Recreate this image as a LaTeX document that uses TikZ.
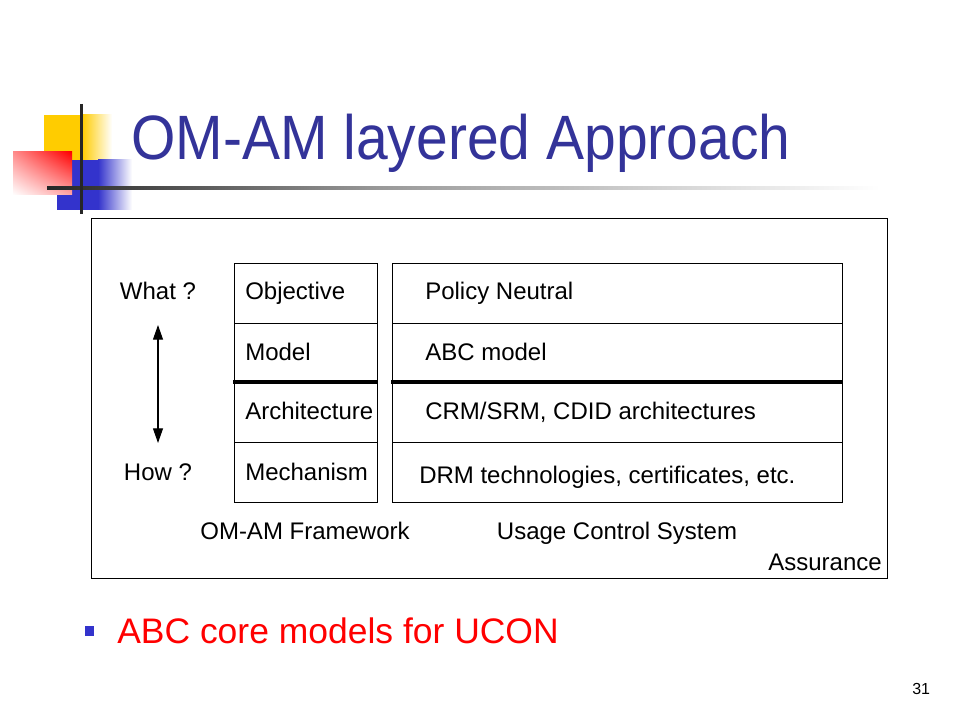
\documentclass[tikz,border=0pt]{standalone}
\usepackage{fontspec}
\setmainfont{Liberation Sans}
\usetikzlibrary{arrows.meta,shadings}
\definecolor{titleblue}{RGB}{51,51,153}
\definecolor{logoyellow}{RGB}{255,204,0}
\definecolor{logoblue}{RGB}{51,51,204}
\definecolor{bulletred}{RGB}{255,0,0}
\tikzset{
  cell/.style={font=\fontsize{18}{20}\selectfont, anchor=base west, inner sep=0pt},
  plain/.style={font=\fontsize{18}{20}\selectfont, anchor=base, inner sep=0pt},
  boxline/.style={draw=black, line width=0.6pt},
  thickline/.style={line width=2.4pt},
}
\begin{document}
\begin{tikzpicture}[x=0.75pt,y=-0.75pt]
\useasboundingbox (0,0) rectangle (960,720);
\fill[white] (0,0) rectangle (960,720);
% logo
\fill[logoyellow] (44,115) rectangle (82,160);
\shade[left color=logoyellow, right color=white] (82,115) rectangle (112,160);
\fill[logoblue] (57,160) rectangle (98,210);
\shade[left color=logoblue, right color=white] (98,160) rectangle (132,210);
\shade[upper right=red, upper left=red!45, lower right=red!35, lower left=white] (13,152) rectangle (72,195);
\shade[left color=black!85, right color=black!40] (47,186.5) rectangle (380,189.5);
\shade[left color=black!40, right color=white] (380,186.5) rectangle (880,189.5);
\draw[line width=2.2pt, black!85] (81.5,104) -- (81.5,214);
% title
\node[anchor=base west, inner sep=0pt, text=titleblue, font=\fontsize{47}{50}\selectfont] (title) at (131,160) {\scalebox{0.91}[1]{OM-AM layered Approach}};
% outer box
\draw[boxline] (91,218) rectangle (887,578);
% left column
\draw[boxline] (234,263) rectangle (377,502);
\draw[boxline] (234,323) -- (377,323);
\draw[boxline] (234,442) -- (377,442);
\draw[thickline] (233,382) -- (378,382);
% right column
\draw[boxline] (392,263) rectangle (842,502);
\draw[boxline] (392,323) -- (842,323);
\draw[boxline] (392,442) -- (842,442);
\draw[thickline] (391,382) -- (843,382);
% left cells
\node[cell] (obj) at (245,300) {Objective};
\node[cell] (mod) at (245,360) {Model};
\node[cell] (arc) at (245,419) {Architecture};
\node[cell] (mec) at (245,480) {Mechanism};
% right cells
\node[cell] (pn) at (425,300) {Policy Neutral};
\node[cell] (abc) at (425,360) {ABC model};
\node[cell] (crm) at (425,419) {CRM/SRM, CDID architectures};
\node[cell] (drm) at (419,483) {DRM technologies, certificates, etc.};
% what/how
\node[plain] (what) at (158,300) {What ?};
\node[plain] (how) at (158,480) {How ?};
\coordinate (atop) at (158,325);
\coordinate (abot) at (158,443);
\draw[line width=0.8pt, {Triangle[length=11pt,width=7.5pt]}-{Triangle[length=11pt,width=7.5pt]}] (atop) -- (abot);
% captions
\node[plain] (fw) at (305,539) {OM-AM Framework};
\node[plain] (ucs) at (617,539) {Usage Control System};
\node[plain, anchor=base east] (ass) at (882,570) {Assurance};
% bullet
\fill[logoblue] (85,626) rectangle (94,636);
\node[anchor=base west, inner sep=0pt, text=bulletred, font=\fontsize{26.6}{30}\selectfont] (abccore) at (117,643) {ABC core models for UCON};
\node[anchor=base west, inner sep=0pt, font=\fontsize{12}{14}\selectfont] (pg) at (912,694) {31};
\end{tikzpicture}
\end{document}
